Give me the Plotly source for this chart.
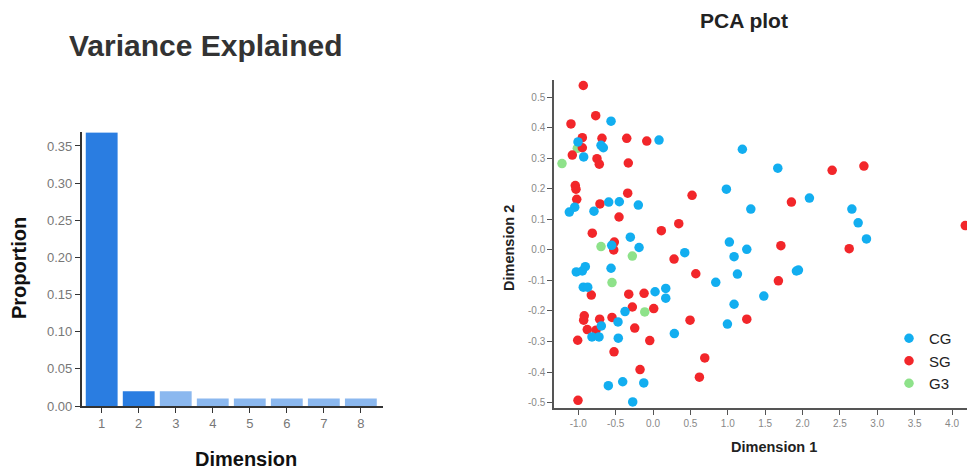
import plotly.graph_objects as go

W, H = 967, 469
H_EFF = 461  # effective rendered height of the paper area (measured in round 1)

# ---------------- data ----------------
dimensions = [1, 2, 3, 4, 5, 6, 7, 8]
proportion = [0.368, 0.020, 0.020, 0.010, 0.010, 0.010, 0.010, 0.010]
bar_colors = ["#2a7de1", "#2a7de1", "#8bb8ef", "#8bb8ef", "#8bb8ef", "#8bb8ef", "#8bb8ef", "#8bb8ef"]

cg_x = [-0.562, 0.080, -1.004, -0.696, -0.665, -0.928, 0.981, -0.593, -0.451, -0.197,
        -1.048, -1.120, -0.790, -0.304, -0.553, -0.187, 1.021, 0.424, -1.027, -0.946,
        -0.906, -0.562, -0.933, -0.874, 0.027, 0.170, 0.170, 0.839, -0.375, -0.469,
        -0.692, -0.817, -0.723, -0.465, 0.285, -0.598, -0.406, -0.124, -0.272, 0.995,
        1.195, 1.669, 2.092, 1.308, 2.660, 2.744, 1.254, 2.855, 1.084, 1.129,
        1.918, 1.945, 1.482, 1.084]
cg_y = [0.422, 0.360, 0.354, 0.343, 0.335, 0.305, 0.199, 0.157, 0.158, 0.147,
        0.140, 0.124, 0.127, 0.042, 0.015, 0.008, 0.026, -0.009, -0.072, -0.069,
        -0.055, -0.060, -0.122, -0.122, -0.137, -0.126, -0.158, -0.106, -0.202, -0.236,
        -0.249, -0.285, -0.285, -0.289, -0.274, -0.445, -0.432, -0.436, -0.498, -0.243,
        0.330, 0.268, 0.170, 0.134, 0.134, 0.089, 0.002, 0.036, -0.022, -0.079,
        -0.069, -0.066, -0.151, -0.178]

sg_x = [-0.933, -0.767, -1.098, -0.946, -0.683, -0.352, -0.084, -0.946, -1.080, -0.750,
        -0.719, -0.331, -1.040, -1.031, -1.021, -0.339, 0.522, -0.710, -0.455, -0.813,
        0.111, 0.344, -0.518, -0.526, 0.281, -0.826, -0.325, -0.120, -0.277, 0.009,
        -0.920, -0.928, -0.714, -0.549, -0.880, -0.763, -0.245, -1.008, -0.044, -0.522,
        -0.174, 0.692, 0.620, 0.495, 0.572, -1.004, 2.396, 2.821, 1.851, 4.177,
        1.710, 2.624, 1.677, 1.254]
sg_y = [0.539, 0.440, 0.413, 0.368, 0.366, 0.366, 0.357, 0.335, 0.311, 0.299,
        0.281, 0.285, 0.211, 0.199, 0.166, 0.186, 0.179, 0.151, 0.108, 0.055,
        0.063, 0.086, 0.026, 0.000, -0.030, -0.148, -0.145, -0.142, -0.187, -0.192,
        -0.216, -0.230, -0.227, -0.221, -0.261, -0.263, -0.256, -0.296, -0.297, -0.334,
        -0.392, -0.354, -0.417, -0.230, -0.078, -0.493, 0.261, 0.275, 0.157, 0.080,
        0.014, 0.004, -0.101, -0.227]

g3_x = [-1.218, -1.013, -0.696, -0.277, -0.549, -0.111]
g3_y = [0.283, 0.333, 0.011, -0.020, -0.107, -0.203]

x_tick_vals = [-1.0, -0.5, 0.0, 0.5, 1.0, 1.5, 2.0, 2.5, 3.0, 3.5, 4.0]
x_tick_text = ["-1.0", "-0.5", "0.0", "0.5", "1.0", "1.5", "2.0", "2.5", "3.0", "3.5", "4.0"]
y_tick_vals = [-0.5, -0.4, -0.3, -0.2, -0.1, 0.0, 0.1, 0.2, 0.3, 0.4, 0.5]
y_tick_text = ["-0.5", "-0.4", "-0.3", "-0.2", "-0.1", "0.0", "0.1", "0.2", "0.3", "0.4", "0.5"]

# ---------------- helpers ----------------
def px(x):
    return x / W

def py(y):
    return 1 - y / H_EFF

FONT = "Liberation Sans, Arial, sans-serif"

fig = go.Figure()

fig.add_trace(go.Bar(
    x=dimensions, y=proportion, marker=dict(color=bar_colors, line=dict(width=0)),
    width=0.86, xaxis="x", yaxis="y", showlegend=False,
))

fig.add_trace(go.Scatter(
    x=g3_x, y=g3_y, mode="markers", name="G3", legendrank=3,
    marker=dict(color="#8ee28a", size=9.5), xaxis="x2", yaxis="y2",
))
fig.add_trace(go.Scatter(
    x=sg_x, y=sg_y, mode="markers", name="SG", legendrank=2,
    marker=dict(color="#f2262a", size=9.5), xaxis="x2", yaxis="y2",
))
fig.add_trace(go.Scatter(
    x=cg_x, y=cg_y, mode="markers", name="CG", legendrank=1,
    marker=dict(color="#12aef0", size=9.5), xaxis="x2", yaxis="y2",
))

axis_common = dict(showgrid=False, zeroline=False, showline=True, ticks="outside",
                   ticklen=5, tickwidth=1.3, linewidth=1.5)

fig.update_layout(
    width=W, height=H,
    margin=dict(l=0, r=0, t=0, b=0),
    paper_bgcolor="white", plot_bgcolor="white",
    font=dict(family=FONT),
    xaxis=dict(domain=[px(81.7), px(382.7)], range=[0.46, 8.59], anchor="y",
               tickvals=dimensions, linecolor="#333", tickcolor="#333",
               tickfont=dict(size=13, color="#777"), **axis_common),
    yaxis=dict(domain=[py(406), py(132.3)], range=[0, 0.3684], anchor="x",
               tickvals=[0, 0.05, 0.10, 0.15, 0.20, 0.25, 0.30, 0.35],
               tickformat=".2f", linecolor="#333", tickcolor="#333",
               tickfont=dict(size=13, color="#777"), **axis_common),
    xaxis2=dict(domain=[px(554), 1.0], range=[-1.325, 4.2], anchor="y2",
                tickvals=x_tick_vals, ticktext=x_tick_text, linecolor="#555", tickcolor="#555",
                tickfont=dict(size=10, color="#888"), **axis_common),
    yaxis2=dict(domain=[py(408), py(80)], range=[-0.518, 0.557], anchor="x2",
                tickvals=y_tick_vals, ticktext=y_tick_text, linecolor="#555", tickcolor="#555",
                tickfont=dict(size=10, color="#888"), **axis_common),
    legend=dict(x=px(889), y=py(322), xanchor="left", yanchor="top",
                font=dict(size=15, color="#222"), bgcolor="rgba(0,0,0,0)",
                itemwidth=30, tracegroupgap=0),
    showlegend=True,
)

annotations = [
    dict(text="<b>Variance Explained</b>", x=px(205), y=py(45), font=dict(size=30, color="#333")),
    dict(text="<b>Proportion</b>", x=px(19), y=py(268), textangle=-90, font=dict(size=20, color="#111")),
    dict(text="<b>Dimension</b>", x=px(246), y=py(459), font=dict(size=20, color="#111")),
    dict(text="<b>PCA plot</b>", x=px(744), y=py(20), font=dict(size=21, color="#222")),
    dict(text="<b>Dimension 2</b>", x=px(509), y=py(248), textangle=-90, font=dict(size=14.5, color="#222")),
    dict(text="<b>Dimension 1</b>", x=px(774), y=py(447), font=dict(size=14.5, color="#222")),
]
for a in annotations:
    a.update(xref="paper", yref="paper", xanchor="center", yanchor="middle", showarrow=False)
fig.update_layout(annotations=annotations)

fig.write_html("out.html")
